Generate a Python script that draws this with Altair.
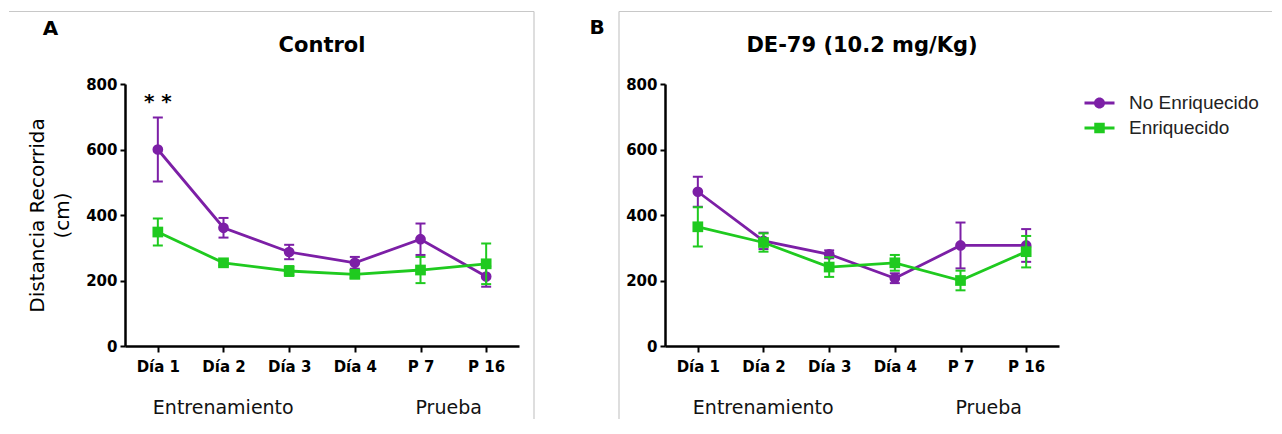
import altair as alt
import pandas as pd

# ---------------- data ----------------
categorias = ["Día 1", "Día 2", "Día 3", "Día 4", "P 7", "P 16"]
series = ["No Enriquecido", "Enriquecido"]
colores = ["#7c1fa6", "#1fca1f"]
formas = ["circle", "square"]

control_no_enr = [600, 361, 287, 254, 326, 212]
control_no_enr_err = [98, 30, 22, 18, 48, 31]
control_enr = [348, 254, 229, 219, 232, 251]
control_enr_err = [41, 8, 15, 12, 40, 62]

de79_no_enr = [471, 321, 280, 207, 307, 307]
de79_no_enr_err = [46, 25, 12, 15, 70, 50]
de79_enr = [364, 316, 241, 254, 200, 288]
de79_enr_err = [60, 28, 30, 24, 30, 48]

titulos = ["Control", "DE-79 (10.2 mg/Kg)"]
letras = ["A", "B"]
fases = ["Entrenamiento", "Prueba"]
fase_inicio = ["Día 1", "P 7"]
y_ticks = [0, 200, 400, 600, 800]
y_titulo = ["Distancia Recorrida", "(cm)"]
signif_dia = ["Día 1"]
signif_y = [750]
signif_txt = ["* *"]

# ---------------- layout constants ----------------
W, H = 394, 262
FONT = "DejaVu Sans"
FRAME = "#c8c8c8"

# legend symbols: short line with the marker on it
CIRC = "M-1,-0.1H1V0.1H-1Z M0.37,0A0.37,0.37,0,1,1,-0.37,0A0.37,0.37,0,1,1,0.37,0Z"
SQ = "M-1,-0.1H1V0.1H-1Z M-0.35,-0.35H0.35V0.35H-0.35Z"


def tabla(m_no, e_no, m_en, e_en):
    rows = []
    for grupo, medias, errs in ((series[0], m_no, e_no), (series[1], m_en, e_en)):
        for i, (d, m, e) in enumerate(zip(categorias, medias, errs)):
            rows.append({"dia": d, "orden": i, "grupo": grupo, "media": m,
                         "bajo": m - e, "alto": m + e})
    return pd.DataFrame(rows)


df_a = tabla(control_no_enr, control_no_enr_err, control_enr, control_enr_err)
df_b = tabla(de79_no_enr, de79_no_enr_err, de79_enr, de79_enr_err)
df_fases = pd.DataFrame({"dia": fase_inicio, "fase": fases})
df_sig = pd.DataFrame({"dia": signif_dia, "y": signif_y, "t": signif_txt})
df_uno = pd.DataFrame({"k": [0]})


def panel(df, idx, con_titulo_y, leyenda, frame_rules, letra_xy):
    xenc = alt.X("dia:N", sort=categorias,
                 scale=alt.Scale(type="point", domain=categorias, padding=0.5),
                 axis=alt.Axis(labelAngle=0, title=None, tickSize=6, labelPadding=7))
    yscale = alt.Scale(domain=[0, 800], nice=False)
    if con_titulo_y:
        yaxis = alt.Axis(values=y_ticks, title=y_titulo, titleFont=FONT, titleFontSize=20,
                         titleFontWeight="normal", titleColor="black", titlePadding=13,
                         titleLineHeight=25, labelPadding=3, tickSize=5)
    else:
        yaxis = alt.Axis(values=y_ticks, title=None, labelPadding=3, tickSize=5)

    capas = []
    for s, c, f in zip(series, colores, formas):
        base = alt.Chart(df).transform_filter(alt.datum.grupo == s)
        capas.append(base.mark_line(color=c, strokeWidth=2.8).encode(
            x=xenc, y=alt.Y("media:Q", scale=yscale, axis=yaxis), order="orden:Q"))
        capas.append(base.mark_rule(color=c, strokeWidth=2).encode(
            x=xenc, y=alt.Y("bajo:Q", scale=yscale, axis=yaxis), y2="alto:Q"))
        capas.append(base.mark_tick(color=c, thickness=2, size=10, opacity=1).encode(
            x=xenc, y=alt.Y("bajo:Q", scale=yscale, axis=yaxis)))
        capas.append(base.mark_tick(color=c, thickness=2, size=10, opacity=1).encode(
            x=xenc, y=alt.Y("alto:Q", scale=yscale, axis=yaxis)))
        capas.append(base.mark_point(filled=True, opacity=1, size=115, strokeWidth=0,
                                     color=c, shape=f).encode(
            x=xenc, y=alt.Y("media:Q", scale=yscale, axis=yaxis)))

    if leyenda is not None:
        # legend entries come from the explicit scale domains; no marks are drawn
        capas.append(alt.Chart(df).transform_filter(alt.datum.orden < 0).mark_point(
            filled=True, opacity=1, strokeWidth=0).encode(
            x=xenc, y=alt.Y("media:Q", scale=yscale, axis=yaxis),
            color=alt.Color("grupo:N", scale=alt.Scale(domain=series, range=colores),
                            legend=leyenda),
            shape=alt.Shape("grupo:N", scale=alt.Scale(domain=series, range=[CIRC, SQ]),
                            legend=leyenda)))

    if idx == 0:
        capas.append(alt.Chart(df_sig).mark_text(font=FONT, fontWeight="bold", fontSize=20,
                                                 color="black", baseline="middle", dy=2).encode(
            x=xenc, y=alt.Y("y:Q", scale=yscale, axis=yaxis), text="t:N"))

    capas.append(alt.Chart(df_fases).mark_text(font=FONT, fontSize=19, color="#111",
                                               align="left", baseline="middle", dx=-5).encode(
        x=xenc, y=alt.value(H + 62), text="fase:N"))

    for r in frame_rules:
        capas.append(alt.Chart(df_uno).mark_rule(color=FRAME, strokeWidth=1.2).encode(**r))

    capas.append(alt.Chart(df_uno).mark_text(font=FONT, fontWeight="bold", fontSize=20,
                                             color="black", align="center",
                                             baseline="middle").encode(
        x=alt.value(letra_xy[0]), y=alt.value(letra_xy[1]), text=alt.value(letras[idx])))

    capas.append(alt.Chart(df_uno).mark_text(font=FONT, fontWeight="bold", fontSize=21,
                                             color="black", align="center",
                                             baseline="middle").encode(
        x=alt.value(W / 2), y=alt.value(-38), text=alt.value(titulos[idx])))

    return alt.layer(*capas).properties(width=W, height=H)


frame_a = [
    dict(x=alt.value(-116), x2=alt.value(409), y=alt.value(-72.5)),
    dict(x=alt.value(409), y=alt.value(-72.5), y2=alt.value(335)),
]
frame_b = [
    dict(x=alt.value(-46), x2=alt.value(607), y=alt.value(-72.5)),
    dict(x=alt.value(-46), y=alt.value(-72.5), y2=alt.value(335)),
]

leg = alt.Legend(orient="none", legendX=419.5, legendY=4, title=None, symbolSize=900,
                 symbolStrokeWidth=0, labelFont="Liberation Sans", labelFontSize=19,
                 labelColor="#222", labelOffset=14.5, rowPadding=0, padding=0)

pa = panel(df_a, 0, True, None, frame_a, (-74.5, -55))
pb = panel(df_b, 1, False, leg, frame_b, (-68, -56.5))

chart = alt.hconcat(pa, pb, spacing=54).resolve_scale(
    color="independent", shape="independent"
).properties(
    padding={"left": 0, "top": 2, "right": 0, "bottom": 0}
).configure_view(strokeWidth=0).configure_axis(
    domainColor="black", domainWidth=2.5, tickColor="black", tickWidth=2,
    labelColor="black", labelFont=FONT, labelFontWeight="bold", labelFontSize=15,
    grid=False
)

chart.save("out.html", embed_options={"renderer": "svg", "actions": False})
